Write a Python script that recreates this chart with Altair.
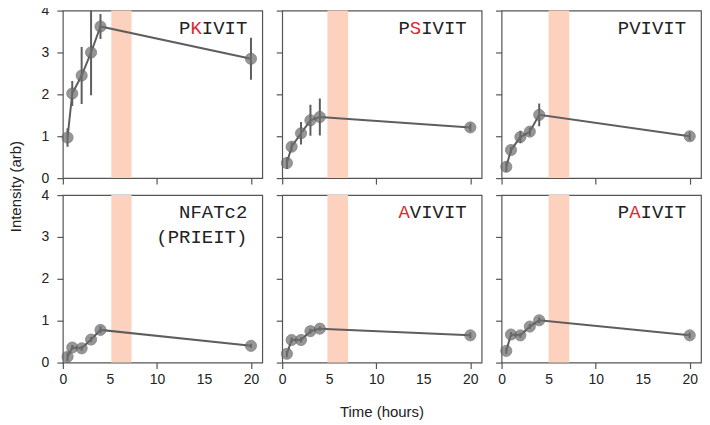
import altair as alt
import pandas as pd

# ---- data ----
time_h = [0.5, 1, 2, 3, 4, 20]
panels = ["PKIVIT", "PSIVIT", "PVIVIT", "NFATc2", "AVIVIT", "PAIVIT"]
values = {
    "PKIVIT": [0.97, 2.02, 2.45, 3.00, 3.62, 2.85],
    "PSIVIT": [0.36, 0.75, 1.07, 1.38, 1.46, 1.21],
    "PVIVIT": [0.27, 0.67, 0.98, 1.11, 1.51, 1.00],
    "NFATc2": [0.14, 0.36, 0.34, 0.55, 0.78, 0.40],
    "AVIVIT": [0.21, 0.54, 0.54, 0.75, 0.81, 0.65],
    "PAIVIT": [0.28, 0.67, 0.65, 0.86, 1.01, 0.65],
}
errors = {
    "PKIVIT": [0.22, 0.30, 0.68, 1.02, 0.30, 0.50],
    "PSIVIT": [0.14, 0.10, 0.27, 0.37, 0.44, 0.10],
    "PVIVIT": [0.12, 0.08, 0.15, 0.10, 0.27, 0.10],
    "NFATc2": [0.10, 0.06, 0.06, 0.06, 0.08, 0.05],
    "AVIVIT": [0.08, 0.06, 0.06, 0.06, 0.05, 0.07],
    "PAIVIT": [0.07, 0.06, 0.06, 0.06, 0.07, 0.07],
}
band_start = [5.15, 4.8, 5.0, 5.15, 4.8, 5.0]
band_end = [7.3, 7.0, 7.2, 7.3, 7.0, 7.2]
label_lines = [
    ["PKIVIT"],
    ["PSIVIT"],
    ["PVIVIT"],
    ["NFATc2", "(PRIEIT)"],
    ["AVIVIT"],
    ["PAIVIT"],
]
red_index = [1, 1, -1, -1, 0, 1]   # which letter of the first line is red
x_labels = [0, 5, 10, 15, 20]
y_labels = [0, 1, 2, 3, 4]

W, H = 200, 168
GREY = "#5e5e5e"
RED = "#e3262d"
MONO = "Liberation Mono"
SANS = "Liberation Sans"
FS = 19
CW = 0.6 * FS  # monospace advance
RIGHT = W - 15


def panel(i):
    name = panels[i]
    row, col = divmod(i, 3)
    df = pd.DataFrame({"t": time_h, "v": values[name]})
    df["lo"] = [v - e for v, e in zip(values[name], errors[name])]
    df["hi"] = [v + e for v, e in zip(values[name], errors[name])]

    tick_cond = {"condition": {"test": "datum.value % 10 === 0", "value": 1}, "value": 0}
    if row == 1:
        xaxis = alt.Axis(values=x_labels, tickOpacity=tick_cond, labelPadding=4, labelFlush=False)
    else:
        xaxis = alt.Axis(values=[0, 10, 20], labels=False)
    if col == 0:
        yaxis = alt.Axis(values=y_labels, labelPadding=8)
    else:
        yaxis = alt.Axis(values=y_labels, labels=False)

    xs = alt.Scale(domain=[0, 21.2], nice=False, zero=False, padding=0)
    ys = alt.Scale(domain=[0, 4], nice=False, padding=0)

    base = alt.Chart(df)
    band = alt.Chart(pd.DataFrame({"a": [band_start[i]], "b": [band_end[i]]})).mark_rect(
        color="#fcd2bf"
    ).encode(
        x=alt.X("a:Q", scale=xs, axis=xaxis, title=None),
        x2="b:Q",
        y=alt.value(0),
        y2=alt.value(H),
    )
    line = base.mark_line(color=GREY, strokeWidth=2).encode(
        x=alt.X("t:Q", scale=xs, axis=xaxis, title=None),
        y=alt.Y("v:Q", scale=ys, axis=yaxis, title=None),
    )
    pts = base.mark_circle(size=125, color="#6e6e6e", opacity=0.72, stroke="#555555", strokeWidth=0.8).encode(
        x="t:Q", y="v:Q"
    )
    err = base.mark_rule(color=GREY, strokeWidth=2, clip=True).encode(
        x="t:Q", y="lo:Q", y2="hi:Q"
    )
    layers = [band, line, err, pts]

    one = pd.DataFrame({"a": [0]})
    for li, txt in enumerate(label_lines[i]):
        n = len(txt)
        for k, ch in enumerate(txt):
            colr = RED if (li == 0 and k == red_index[i]) else "#222222"
            layers.append(
                alt.Chart(one).mark_text(
                    font=MONO, fontSize=FS, align="center", baseline="middle", color=colr
                ).encode(
                    x=alt.value(RIGHT - (n - k - 0.5) * CW),
                    y=alt.value(17 + 25 * li),
                    text=alt.value(ch),
                )
            )
    if i == 0:
        layers.append(
            alt.Chart(one).mark_text(
                font=SANS, fontSize=15, angle=270, align="center", baseline="middle", color="#222222"
            ).encode(x=alt.value(-47), y=alt.value(H + 8.5), text=alt.value("Intensity (arb)"))
        )
    if i == 4:
        layers.append(
            alt.Chart(one).mark_text(
                font=SANS, fontSize=15, align="center", baseline="middle", color="#222222"
            ).encode(x=alt.value(W / 2), y=alt.value(H + 50), text=alt.value("Time (hours)"))
        )
    return alt.layer(*layers).properties(width=W, height=H)


chart = alt.concat(
    *[panel(i) for i in range(6)],
    columns=3,
    spacing={"row": 17, "column": 20},
    bounds="flush",
).properties(
    padding={"left": 0, "top": -6, "right": 0, "bottom": 0}
).configure_view(
    stroke="#555555", strokeWidth=1.2
).configure_axis(
    grid=False,
    domain=False,
    tickColor="#555555",
    tickSize=6,
    tickWidth=1.2,
    labelFont=SANS,
    labelFontSize=14,
    labelColor="#222222",
)

chart.save("out.html", embed_options={"renderer": "svg", "actions": False})
